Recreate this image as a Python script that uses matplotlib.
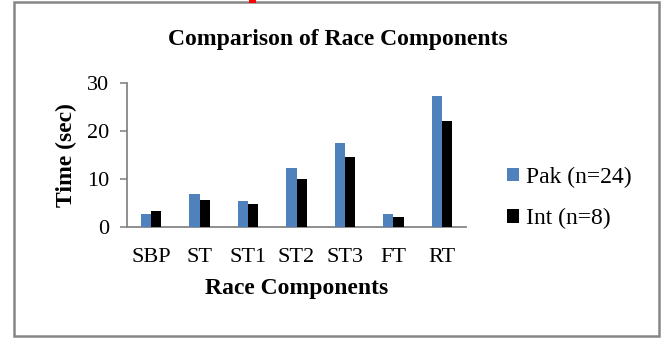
import matplotlib
matplotlib.use("Agg")
import matplotlib.pyplot as plt
import numpy as np
from matplotlib.patches import Rectangle

# Race component timings (seconds)
categories = ["SBP", "ST", "ST1", "ST2", "ST3", "FT", "RT"]
pak_times = [2.6, 6.8, 5.3, 12.3, 17.6, 2.7, 27.3]
int_times = [3.35, 5.6, 4.7, 9.9, 14.5, 2.1, 22.2]
series_labels = ["Pak (n=24)", "Int (n=8)"]
y_ticks = [0, 10, 20, 30]

plt.rcParams["font.family"] = ["Liberation Serif", "DejaVu Serif"]

W, H = 662, 338
fig = plt.figure(figsize=(W / 100, H / 100), dpi=100)
fig.patch.set_facecolor("white")

ax = fig.add_axes([127 / W, 1 - 226.7 / H, (466 - 127) / W, (226.7 - 83.3) / H])

x = np.arange(len(categories))
bw = 0.21
gray = "#868686"
ax.bar(x - bw / 2, pak_times, bw, color="#4F81BD", label=series_labels[0], zorder=3)
ax.bar(x + bw / 2, int_times, bw, color="black", label=series_labels[1], zorder=3)

ax.set_xlim(-0.5, len(categories) - 0.5)
ax.set_ylim(0, 30)
ax.set_yticks(y_ticks)
ax.set_xticks(x)
ax.set_xticklabels(categories)

for side in ("top", "right"):
    ax.spines[side].set_visible(False)
for side in ("left", "bottom"):
    ax.spines[side].set_color(gray)
    ax.spines[side].set_linewidth(1.3)

ax.tick_params(axis="y", direction="out", length=5, width=1.2, color=gray,
               labelsize=16, pad=8)
ax.tick_params(axis="x", length=0, labelsize=16, pad=15)

ax.set_ylabel("Time (sec)", fontsize=17, fontweight="bold", labelpad=7)
ax.set_xlabel("Race Components", fontsize=17, fontweight="bold", labelpad=8)

fig.text(338 / W, 1 - 40 / H, "Comparison of Race Components", ha="center",
         va="center", fontsize=17, fontweight="bold")

fig.legend(loc="center left", bbox_to_anchor=(507 / W, 1 - 198 / H),
           frameon=False, fontsize=17, handlelength=0.52, handleheight=0.52,
           handletextpad=0.3, labelspacing=0.85, borderpad=0, borderaxespad=0)

# chart border
fig.patches.append(Rectangle((14 / W, 1 - 336 / H), (659 - 14) / W, (336 - 2) / H,
                             transform=fig.transFigure, fill=False,
                             edgecolor=gray, linewidth=1.8))
fig.patches.append(Rectangle((249 / W, 1 - 3 / H), 7 / W, 3 / H,
                             transform=fig.transFigure, facecolor="red",
                             edgecolor="none"))

fig.savefig("out.png", dpi=100)
